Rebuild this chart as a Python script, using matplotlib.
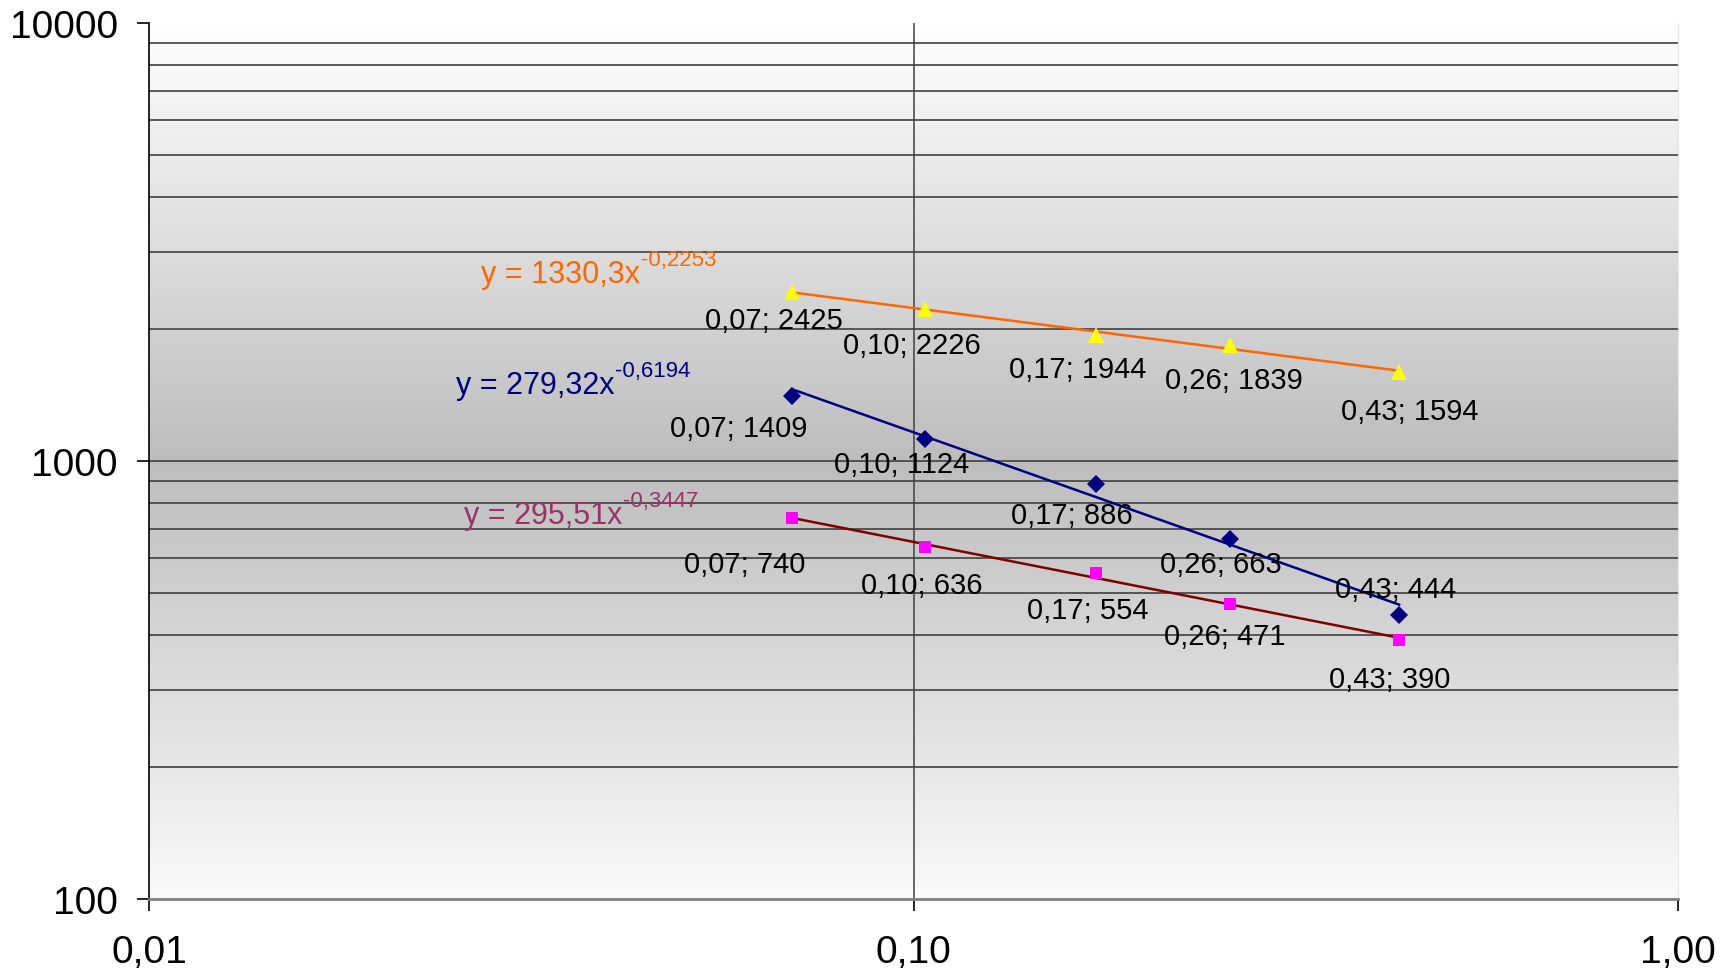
import numpy as np
import matplotlib.pyplot as plt
from matplotlib.colors import LinearSegmentedColormap

plt.rcParams['font.family'] = ['Liberation Sans', 'DejaVu Sans']

# measured points (x, y) for the three series
x_vals = [0.0693, 0.1035, 0.1733, 0.2598, 0.4317]
y_orange = [2425, 2226, 1944, 1839, 1594]
y_blue = [1409, 1124, 886, 663, 444]
y_red = [740, 636, 554, 471, 390]

# power trend lines y = a * x^b
fit_orange = (1330.3, -0.2253)
fit_blue = (279.32, -0.6194)
fit_red = (295.51, -0.3447)

x_ticks = [0.01, 0.1, 1.0]
x_tick_labels = ['0,01', '0,10', '1,00']
y_ticks = [100, 1000, 10000]
y_tick_labels = ['100', '1000', '10000']

# label offsets in pixels (dx, dy) for each point label
off_orange = [(-18, -28), (-13, -36), (-18, -34), (3, -35), (11, -39)]
off_blue = [(-53, -32), (-23, -25), (-24, -31), (-10, -25), (-3, 26)]
off_red = [(-47, -46), (-3, -38), (-8, -37), (-6, -32), (-9, -39)]

series = [
    (y_orange, fit_orange, '^', '#FFFF00', '#FF6600', '#FF6600', off_orange, (0.0272, 2559), 12),
    (y_blue, fit_blue, 'D', '#000080', '#000080', '#000080', off_blue, (0.0252, 1426), 9.5),
    (y_red, fit_red, 's', '#FF00FF', '#800000', '#993366', off_red, (0.02584, 722), 9),
]


def dec(v):
    return str(v).replace('.', ',')


fig = plt.figure(figsize=(17.28, 9.78), dpi=100)
rect = [149 / 1728, 1 - 900 / 978, (1678 - 149) / 1728, (900 - 24) / 978]

# gradient background behind the plot area
bg = fig.add_axes(rect, zorder=0)
grad = np.linspace(0, 1, 512).reshape(-1, 1)
cmap = LinearSegmentedColormap.from_list('bg', ['#ffffff', '#bdbdbd', '#fafafa'])
bg.imshow(grad, aspect='auto', cmap=cmap, extent=[0, 1, 0, 1], origin='upper')
bg.set_axis_off()

ax = fig.add_axes(rect, zorder=1)
ax.set_facecolor('none')
ax.set_xscale('log')
ax.set_yscale('log')
ax.set_xlim(0.01, 1)
ax.set_ylim(100, 10000)

# grid: minor horizontal lines plus the 1000 line and the 0.1 vertical line
for dec_start in [100, 1000]:
    for k in range(2, 11):
        yv = dec_start * k
        if yv >= 10000:
            continue
        ax.axhline(yv, color='#404040', lw=1.2, zorder=1)
ax.axvline(0.1, color='#404040', lw=1.1, zorder=1)

for ys, (a, b), mk, mcol, lcol, tcol, offs, eq_pos, ms in series:
    xx = np.geomspace(x_vals[0], x_vals[-1], 200)
    ax.plot(xx, a * xx ** b, color=lcol, lw=1.8, zorder=3)
    ax.plot(x_vals, ys, linestyle='none', marker=mk, color=mcol, markersize=ms,
            markeredgewidth=0, zorder=4)
    for xv, yv, (dx, dy) in zip(x_vals, ys, offs):
        ax.annotate(f'{xv:.2f}'.replace('.', ',') + f'; {yv}', (xv, yv),
                    xytext=(dx, dy), textcoords='offset pixels',
                    ha='center', va='center', fontsize=21, color='black', zorder=5)
    main = ax.text(eq_pos[0], eq_pos[1], f'y = {dec(a)}x', color=tcol, fontsize=22,
                   ha='left', va='baseline', zorder=5)
    ax.annotate(dec(b), xy=(1, 1), xycoords=main, xytext=(0.5, 7.5),
                textcoords='offset points', ha='left', va='top',
                color=tcol, fontsize=16, zorder=5)

ax.set_xticks(x_ticks)
ax.set_xticklabels(x_tick_labels)
ax.set_yticks(y_ticks)
ax.set_yticklabels(y_tick_labels)
ax.minorticks_off()
ax.tick_params(axis='both', labelsize=28, length=8.5, width=1.2, color='black')
ax.tick_params(axis='x', pad=17)
ax.tick_params(axis='y', pad=14)

ax.spines['top'].set_visible(False)
ax.spines['right'].set_color('#e6e6e6')
ax.spines['left'].set_color('black')
ax.spines['left'].set_linewidth(1.2)
ax.spines['bottom'].set_color('#808080')
ax.spines['bottom'].set_linewidth(2)

fig.savefig('out.png', dpi=100)
